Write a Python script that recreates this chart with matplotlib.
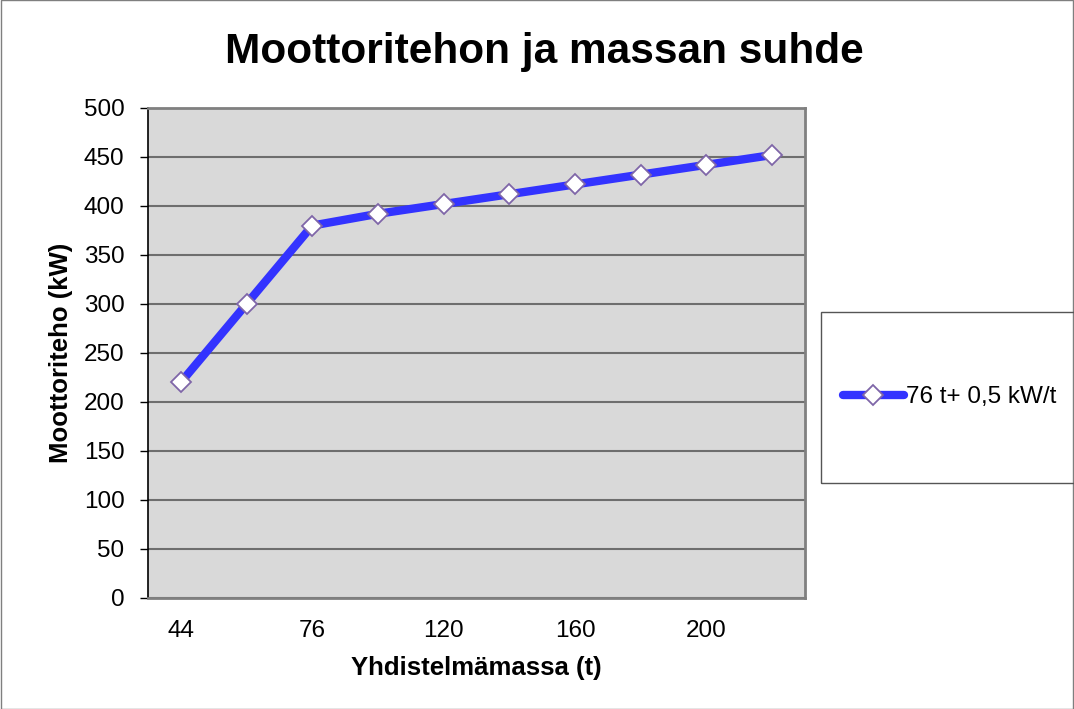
import matplotlib
matplotlib.use("Agg")
import matplotlib.pyplot as plt
from matplotlib.patches import Rectangle

plt.rcParams['font.family'] = ['Liberation Sans', 'DejaVu Sans']

categories = ["44", "60", "76", "100", "120", "140", "160", "180", "200", "220"]
values = [220, 300, 380, 392, 402, 412, 422, 432, 442, 452]
shown_labels = ["44", "", "76", "", "120", "", "160", "", "200", ""]
series_name = "76 t+ 0,5 kW/t"
title = "Moottoritehon ja massan suhde"
xlabel = "Yhdistelmämassa (t)"
ylabel = "Moottoriteho (kW)"

fig = plt.figure(figsize=(10.74, 7.09), dpi=100)
fig.patch.set_facecolor('white')
fig.add_artist(Rectangle((0.0005, 0.0007), 0.999, 0.9986, transform=fig.transFigure,
                         fill=False, edgecolor='#7f7f7f', linewidth=1.0))

ax = fig.add_axes([0.1378, 0.1566, 0.6117, 0.6911])
ax.set_facecolor('#D9D9D9')
x = list(range(len(categories)))
ax.plot(x, values, color='#3333FF', linewidth=6, solid_capstyle='round',
        marker='D', markersize=10, markerfacecolor='white', markeredgecolor='#7F66A8',
        markeredgewidth=1.3, label=series_name, zorder=3)
ax.set_xlim(-0.5, len(categories) - 0.5)
ax.set_ylim(0, 500)
ax.set_yticks(range(0, 501, 50))
ax.set_xticks(x)
ax.set_xticklabels(shown_labels)
ax.yaxis.grid(True, color='#6e6e6e', linewidth=1.5)
ax.set_axisbelow(True)
ax.tick_params(axis='y', length=6, width=1, color='black', labelsize=17.5, pad=11)
ax.tick_params(axis='x', length=0, labelsize=17.5, pad=16)
for s in ['top', 'right', 'bottom']:
    ax.spines[s].set_color('#808080')
    ax.spines[s].set_linewidth(2)
ax.spines['left'].set_color('black')
ax.spines['left'].set_linewidth(1.2)

ax.set_xlabel(xlabel, fontsize=18.5, fontweight='bold', labelpad=10)
ax.set_ylabel(ylabel, fontsize=18.5, fontweight='bold', labelpad=8)
fig.text(0.507, 0.926, title, ha='center', va='center', fontsize=30.5, fontweight='bold')

fig.add_artist(Rectangle((0.7645, 0.3188), 0.26, 0.2412, transform=fig.transFigure,
                         fill=False, edgecolor='#555555', linewidth=1.0))
leg = fig.legend(loc='center left', bbox_to_anchor=(0.785, 0.4395), frameon=False,
                 fontsize=17.5, handlelength=2.5, handletextpad=0.1, borderpad=0, borderaxespad=0)

fig.savefig('out.png', dpi=100)
